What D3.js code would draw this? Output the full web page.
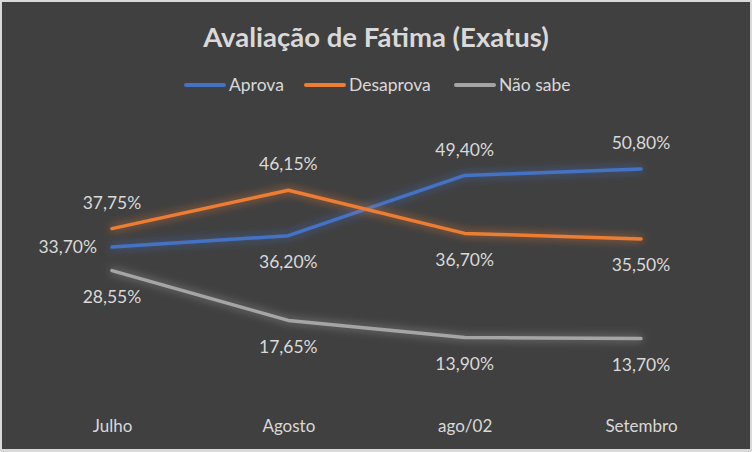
<!DOCTYPE html>
<html>
<head>
<meta charset="utf-8">
<script src="https://cdn.jsdelivr.net/npm/d3@7/dist/d3.min.js"></script>
<style>
  body { margin: 0; background: #404040; }
  svg { display: block; }
  text { font-family: Lato, "Open Sans", sans-serif; }
</style>
</head>
<body>
<div id="chart"></div>
<script>
// data
const categories = ['Julho', 'Agosto', 'ago/02', 'Setembro']
const aprova = [33.70, 36.20, 49.40, 50.80]
const desaprova = [37.75, 46.15, 36.70, 35.50]
const naoSabe = [28.55, 17.65, 13.90, 13.70]
const seriesNames = ['Aprova', 'Desaprova', 'Não sabe']
const yTicks = [0, 60]

// where each value label sits relative to its point
const labelSide = [
  ['left', 'below', 'above', 'above'],
  ['above', 'above', 'below', 'below'],
  ['below', 'below', 'below', 'below']
]

const colors = ['#4472c4', '#ed7d31', '#a5a5a5']
const width = 752, height = 452

const svg = d3.select('#chart').append('svg')
  .attr('width', width)
  .attr('height', height)

svg.append('rect').attr('width', width).attr('height', height).attr('fill', '#d9d9d9')
svg.append('rect').attr('x', 2).attr('y', 2)
  .attr('width', width - 4).attr('height', height - 5)
  .attr('fill', '#404040')

const defs = svg.append('defs')
colors.forEach((c, i) => {
  const f = defs.append('filter').attr('id', 'glow' + i)
    .attr('x', '-20%').attr('y', '-50%').attr('width', '140%').attr('height', '200%')
  f.append('feGaussianBlur').attr('in', 'SourceGraphic').attr('stdDeviation', 5).attr('result', 'b')
  f.append('feComponentTransfer').attr('in', 'b').attr('result', 'b2')
    .append('feFuncA').attr('type', 'linear').attr('slope', 0.8)
  const m = f.append('feMerge')
  m.append('feMergeNode').attr('in', 'b2')
  m.append('feMergeNode').attr('in', 'SourceGraphic')
})

const x = d3.scalePoint()
  .domain(categories)
  .range([112, 641])

const y = d3.scaleLinear()
  .domain(d3.extent(yTicks))
  .range([401, 127])

// title
svg.append('text')
  .attr('x', 376).attr('y', 47)
  .attr('text-anchor', 'middle')
  .attr('font-size', 27.5).attr('font-weight', 'bold')
  .attr('fill', '#d9d9d9')
  .text('Avaliação de Fátima (Exatus)')

// legend
const legendX = [186, 306, 456]
const legend = svg.append('g')
seriesNames.forEach((n, i) => {
  legend.append('line')
    .attr('x1', legendX[i]).attr('x2', legendX[i] + 38)
    .attr('y1', 85).attr('y2', 85)
    .attr('stroke', colors[i]).attr('stroke-width', 4).attr('stroke-linecap', 'round')
  legend.append('text')
    .attr('x', legendX[i] + 43).attr('y', 91)
    .attr('font-size', 17.5).attr('fill', '#d9d9d9')
    .text(n)
})

// x axis labels
const xAxis = svg.append('g')
  .attr('transform', 'translate(0,427)')
  .call(d3.axisBottom(x).tickSize(0).tickPadding(0))
xAxis.select('.domain').remove()
xAxis.selectAll('text')
  .attr('font-size', 17).attr('fill', '#d9d9d9')
  .attr('font-family', 'Lato, "Open Sans", sans-serif')
  .attr('dy', '0.32em')

const line = d3.line()
  .x((d, i) => x(categories[i]))
  .y(d => y(d))

const allSeries = [aprova, desaprova, naoSabe]
const lines = svg.append('g')
const labels = svg.append('g')

allSeries.forEach((s, i) => {
  lines.append('path')
    .datum(s)
    .attr('d', line)
    .attr('fill', 'none')
    .attr('stroke', colors[i])
    .attr('stroke-width', 3.5)
    .attr('stroke-linejoin', 'round')
    .attr('stroke-linecap', 'round')
    .attr('filter', 'url(#glow' + i + ')')
})

const fmt = v => v.toFixed(2).replace('.', ',') + '%'

allSeries.forEach((s, i) => {
  s.forEach((v, j) => {
    const side = labelSide[i][j]
    let px = x(categories[j]), py = y(v), anchor = 'middle'
    if (side === 'above') py -= 26
    if (side === 'below') py += 26
    if (side === 'left') { px -= 15; anchor = 'end' }
    labels.append('text')
      .attr('x', px).attr('y', py)
      .attr('dy', '0.35em')
      .attr('text-anchor', anchor)
      .attr('font-size', 17.5).attr('fill', '#d9d9d9')
      .text(fmt(v))
  })
})
</script>
</body>
</html>
